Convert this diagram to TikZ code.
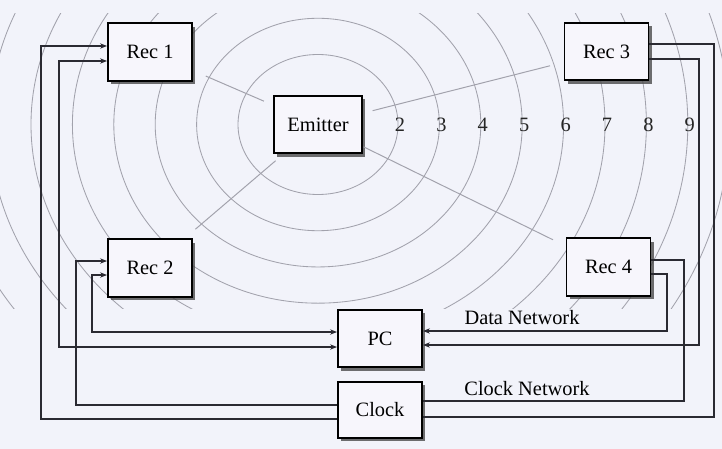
\documentclass[tikz,border=0pt]{standalone}
\usepackage{fontspec}
\setmainfont{Liberation Serif}
\usepackage{tikz}
\usetikzlibrary{arrows.meta,calc,shadows}
\definecolor{pagebg}{HTML}{F2F3FA}
\definecolor{boxfill}{HTML}{F7F6FC}
\definecolor{ringgray}{HTML}{A2A2AC}
\definecolor{wiredark}{HTML}{2A2A32}

\begin{document}
\begin{tikzpicture}[x=0.25mm, y=-0.25mm,
    unit/.style={draw=black, line width=1.3pt, fill=boxfill,
                 minimum width=21mm, minimum height=14.4mm,
                 font=\fontsize{14.5}{16}\selectfont,
                 drop shadow={shadow xshift=2.4pt, shadow yshift=-2.4pt,
                              fill=black!75, opacity=0.75}},
    ring/.style={ringgray, line width=0.6pt},
    ray/.style={ringgray, line width=0.7pt, shorten <=2.5mm, shorten >=3.5mm},
    wire/.style={wiredark, line width=1pt},
    tip/.style={-{Stealth[length=5pt]}},
    netlabel/.style={font=\fontsize{14.5}{16}\selectfont},
    ringnum/.style={font=\fontsize{14.5}{16}\selectfont, text=black!85}
]
  % Page
  \fill[pagebg] (0,0) rectangle (722,449);

  % Wave fronts round the emitter
  \coordinate (src) at (318,124.5);
  \begin{scope}
    \clip (0,14) rectangle (722,308);
    \foreach \n in {2,...,10}
      \draw[ring] (src) ellipse [x radius={80+41.4*(\n-2)}, y radius={0.875*(80+41.4*(\n-2))}];
  \end{scope}
  \foreach \n in {2,...,9}
    \node[ringnum] (num\n) at ({400+41.4*(\n-2)},125) {\n};

  % Units
  \node[unit, minimum width=22mm] (emit) at (318,124.5) {Emitter};
  \node[unit] (rec1) at (150,52) {Rec 1};
  \node[unit] (rec3) at (606.5,51.5) {Rec 3};
  \node[unit] (rec2) at (150,268) {Rec 2};
  \node[unit] (rec4) at (608.5,267) {Rec 4};
  \node[unit] (pc) at (380,338.5) {PC};
  \node[unit, minimum height=14mm] (clk) at (380,410) {Clock};

  % Rays from the emitter
  \draw[ray] (emit) -- (rec1);
  \draw[ray] (emit) -- (rec2);
  \draw[ray] (emit) -- (rec3);
  \draw[ray, shorten <=0.2mm] (emit) -- (rec4);

  % Clock network
  \draw[wire, tip] ($(clk.west)+(0,9)$) -- ++(-296,0) |- ($(rec1.west)+(0,-6)$);
  \draw[wire, tip] ($(clk.west)+(0,-5)$) -- ++(-261,0) |- ($(rec2.west)+(0,-7)$);
  \draw[wire] ($(clk.east)+(0,7)$) -- ++(291,0) |- ($(rec3.east)+(0,-7.5)$);
  \draw[wire] ($(clk.east)+(0,-9)$) -- ++(261,0) |- ($(rec4.east)+(0,-7)$);
  \node[netlabel] (clklbl) at (527,389) {Clock Network};

  % Data network
  \draw[wire, {Stealth[length=5pt]}-{Stealth[length=5pt]}] ($(pc.west)+(0,8.5)$) -- ++(-278,0) |- ($(rec1.west)+(0,9)$);
  \draw[wire, {Stealth[length=5pt]}-{Stealth[length=5pt]}] ($(pc.west)+(0,-6.5)$) -- ++(-245,0) |- ($(rec2.west)+(0,7)$);
  \draw[wire, {Stealth[length=5pt]}-] ($(pc.east)+(0,6.5)$) -- ++(276,0) |- ($(rec3.east)+(0,7.5)$);
  \draw[wire, {Stealth[length=5pt]}-] ($(pc.east)+(0,-7.5)$) -- ++(244,0) |- ($(rec4.east)+(0,7)$);
  \node[netlabel] (datalbl) at (522,318) {Data Network};
\end{tikzpicture}
\end{document}
